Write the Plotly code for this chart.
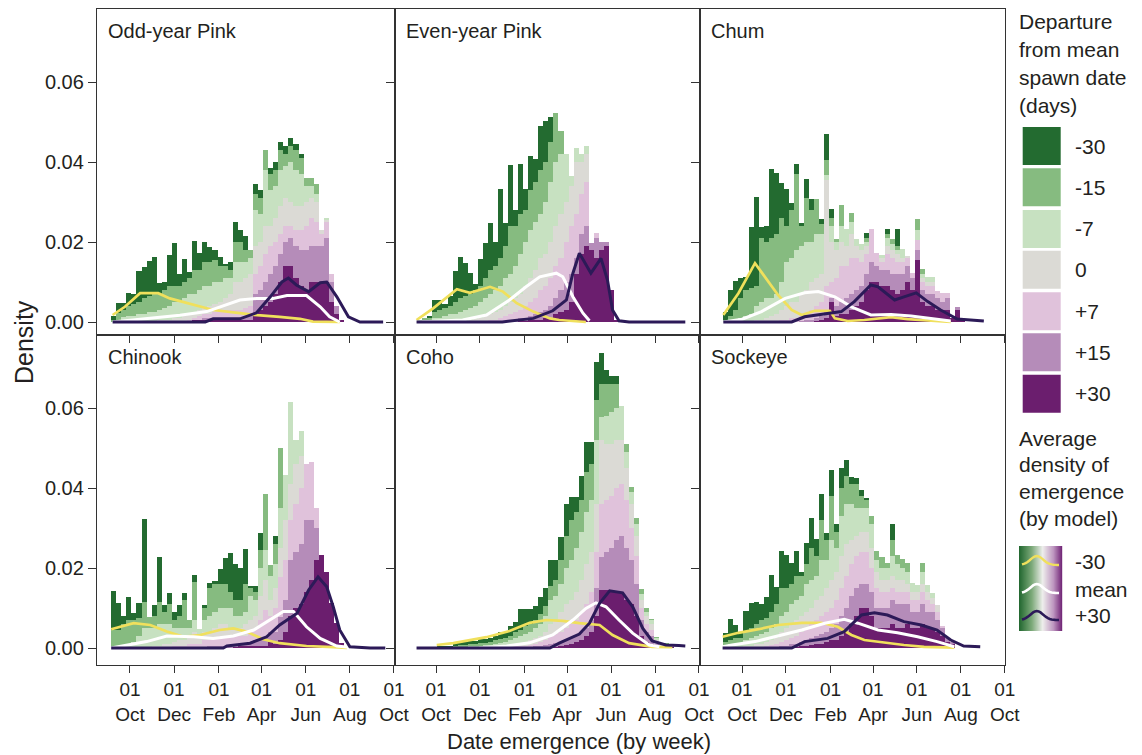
import math
import plotly.graph_objects as go

W, H = 1142, 755
PL, PT, PR, PB = 97, 9, 137, 90
PW, PH = W - PL - PR, H - PT - PB

FONT = "Liberation Sans, Arial, Helvetica, sans-serif"
TXT = "#231F20"
FRAME = "#333333"

LAYER_NAMES = ["+30", "+15", "+7", "0", "-7", "-15", "-30"]
LAYER_COLORS = ["#6B1E6E", "#B58CB9", "#E0C2DB", "#DBDAD5", "#C7E1C1", "#86BB80", "#236B30"]
YELLOW, WHITE, NAVY = "#F0E05C", "#FFFFFF", "#2C1A58"

BIN_EDGE0 = -26   # first weekly bin edge, days from 01 Oct
BIN_DAYS = 7

X_TICK_DAYS = [0, 61, 123, 182, 243, 304, 365]
X_TICK_TEXT = ["01<br>Oct", "01<br>Dec", "01<br>Feb", "01<br>Apr", "01<br>Jun", "01<br>Aug", "01<br>Oct"]
Y_TICKS = [0, 0.02, 0.04, 0.06]
Y_TICK_TEXT = ["0.00", "0.02", "0.04", "0.06"]

# ---- weekly histograms: cumulative tops (x0.001) of layers +30,+15,+7,0,-7,-15,-30 ----
ODD_PINK_START = 0
ODD_PINK = [
    [0,0,0,0,0,0.5,1.5],[0,0,0,0,0.3,2.3,4.7],[0,0,0,0,1.3,3,4.8],[0,0,0,0,1.5,4,7.2],
    [0,0,0,0,1.5,4.5,7],[0,0,0,0,2,5,12.7],[0,0,0,0,2,6,13.8],[0,0,0,0,2.5,6.5,15.2],
    [0,0,0,0.3,2.5,7,16.3],[0,0,0,0.5,3,7,9.7],[0,0,0,0.5,3.5,8,10],[0,0,0,0.5,4,9,16.8],
    [0,0,0,1,5,9,19.8],[0,0,0.3,1,5,9,12],[0,0,0.3,1.5,6,10,15.7],[0,0,0.5,2,7,11,12.5],
    [0.5,0.5,1,2.5,7,13,20.2],[0.5,0.5,1.5,3,8,13,17.2],[0.5,1,2,3.5,9,15,20],[0.5,1,2,4,9,15,18.7],
    [0.5,1,2.5,4.5,10,15.5,18],[0.5,1,2.5,5,10,14,16.3],[0.5,1,3,6,11,14,14.5],[0.5,1,3,7,11,13,15],
    [0.5,1,3,10,15,20,25],[0.5,1,3,10,15,20,23],[0.5,1.5,3.5,11,15,18,21.5],[0.5,1.5,4,12,16,18,18],
    [2,7,12,19,28,32,34.5],[3,8,14,20,27,31,33],[4,10,17,24,38,43,43],[5,12,19,24,33,37,38.5],
    [7,14,20,26,34,38,40],[10,17,22,29,38,43,45],[14,20,24,31,39,42,44],[14,21,24,30,40,44,46],
    [11,19,23,29,38,43,44.5],[9,18,23,29,37,41,42],[8,18,24,30,34,36,36],[10,19,26,31,34,36,36],
    [10,19,25,30,32,34.5,34.5],[10,19,22,23,23,23,23],[10,21,25,25.5,26,26,26],[5,10,12,12,12,12,12],
    [2,4,4,4,4,4,4],[0.5,0.5,0.5,0.5,0.5,0.5,0.5],
]
EVEN_PINK_START = 0
EVEN_PINK = [
    [0,0,0,0,0.2,0.5,0.5],[0,0,0,0,0.5,1,1],[0,0,0,0,0.5,1,1.5],[0,0,0,0,1,2.5,5.5],
    [0,0,0,0,1,3,5.5],[0,0,0,0,1.5,3.5,4.5],[0,0,0,0,2,4,6.5],[0,0,0,0,2,5,12.7],
    [0,0,0,0,2.5,6,16.3],[0,0,0,0.3,3,6.5,14.7],[0,0,0,0.5,3.5,7,12.2],[0,0,0,0.8,4,8,9.4],
    [0,0,0,1,5,9,15.7],[0,0,0.3,1.5,6,11,19.7],[0,0,0.5,2,7,13,24.7],[0,0,0.5,2.5,8,14,20],
    [0,0,1,3,9,16,33.2],[0,0.3,1.5,4,11,19,24.7],[0,0.5,2,5,12,24,39.3],[0,0.5,2.5,6,14,24,28],
    [0.3,1,3,7,17,27,39.5],[0.3,1,4,9,20,28,33.2],[0.5,1.5,5,11,23,33,41.5],[0.5,2,6,13,25,35,40.7],
    [0.5,2.5,8,16,27,38,49],[1,3,9,17,30,40,50.3],[1,4,11,20,35,45,51.2],[2,6,14,24,40,52.3,52.3],
    [2.5,8,16,27,42,47.8,47.8],[3,10,20,30,42,42,42],[5,12,24,34,36.5,36.5,36.5],[12,16,27,40,43.4,43.4,43.4],
    [17,22,32,40,42,42,42],[19,24,35,42,44,44,44],[18,19.7,19.7,19.7,19.7,19.7,19.7],[16,21,22.2,22.2,22.2,22.2,22.2],
    [18,20,20,20,20,20,20],[19,20,20,20,20,20,20],[8,8,8,8,8,8,8],[0.5,0.5,0.5,0.5,0.5,0.5,0.5],
]
CHUM_START = 0
CHUM = [
    [0,0,0,0,0,0.5,2.5],[0,0,0,0,0,1.5,8],[0,0,0,0,0.5,3,10.2],[0,0,0,0,1,6,11],
    [0,0,0,0,1.5,8,11.3],[0,0,0,0,2,8.5,23.7],[0,0,0,0.5,4,9,31.3],[0,0,0,0.5,5,21,23.8],
    [0,0,0,1,6,20,24],[0,0,0,1.5,6,21,38.2],[0,0,0,2,7,22,37.3],[0,0,0.5,3,10,26,34.8],
    [0,0,0.5,4,15,24,33.2],[0,0,1,5,16,28,29.7],[0,0,1,5,18,37,39.4],[0,0.3,1.5,7,19,24,24.8],
    [0,0.5,2,8,20,31,35.7],[0,0.5,3,10,20,28,30.7],[0.3,1,4,11,22,30.7,30.7],[0.5,1.5,5,12,22,24.5,25.75],
    [1,3,9,35.5,36.75,40.5,47],[5,6,10,20,24,26,28.25],[1.5,4,11,18,20,20.75,20.75],[2,5,14,20,24,29.25,29.25],
    [2,6,14,19,23.2,23.2,23.2],[3,7,16,22,25,27.2,27.2],[4,8,16,19,20.75,20.75,20.75],[5,9,15,18,19.5,19.5,19.5],
    [8,12,17,19,20,21,22.3],[10,15,23.2,23.2,23.2,23.2,23.2],[10,14,17.2,17.2,17.2,17.2,17.2],[9,13,15,16,16.75,16.75,16.75],
    [9,13,17,19,21,22,23.2],[8,12,16,18,19.5,20.7,20.7],[7,12,15,17,18,19,23.25],[8,12,15,16,18.2,18.2,18.2],
    [10,14,16,16.3,16.3,16.3,16.3],[8,11,12.2,12.2,12.2,12.2,12.2],[15.5,18,20.5,20.5,23,25.75,25.75],[5,8,10,11,12,13.2,13.2],
    [4,7,9,10,11.3,11.3,11.3],[4,7,9,10,11.3,11.3,11.3],[3,6,7.75,7.75,7.75,7.75,7.75],[3,5,7.2,7.2,7.2,7.2,7.2],
    [3,6,7.2,7.2,7.2,7.2,7.2],[1,1,1,1,1,1,1],[3,3.7,3.7,3.7,3.7,3.7,3.7],[0.5,0.5,0.5,0.5,0.5,0.5,0.5],
]
CHINOOK_START = 0
CHINOOK = [
    [0,0,0,0,0,4.5,14.25],[0,0,0,0,0,4.5,11.2],[0,0,0,0,0.5,6,8],[0,0,0,0,1,7,12.7],
    [0,0,0,0,1.5,7,8.8],[0,0,0,0,3,7.5,11.2],[0,0,0,0,5,11.5,32.25],[0,0,0,0,5,7.7,7.7],
    [0,0,0,0.5,5,8,10.75],[0,0,0,0.5,6,11.5,22.8],[0,0,0,1,6,9,10.75],[0,0,0,1,6,11,13.7],
    [0,0,0.5,1.5,5,7,9],[0,0,0.5,2,5,8,10.75],[0,0,0.5,2,5,12,13.8],[0,0,1,3,5,7,7],
    [0,0,1,4,7,16.5,18.25],[0,0,1,3,4.7,4.7,4.7],[0,0.3,2,4,7,10,10.75],[0,0.5,2,4,8,15,16.3],
    [0,0.5,2.5,5,9,16,16.75],[0,0.5,3,6,10,16,19.7],[0,0.5,3,6,10,16,22.6],[0,0.5,3,5,10,14,23.7],
    [0.3,1,3,5,8,12,20.9],[0.5,1,3,5,8,12,19.9],[0.5,1,3,6,9,16,24.7],[0.5,1.5,4,7,13,15,15.5],
    [0.5,2,5,8,12,14,15.5],[0.5,2,7,13,20,24.5,28.8],[0.5,2.8,9.5,17,24.5,38.4,38.4],[1.5,4,8,12,18,20.75,20.75],
    [1,4,10,15,21,26,28],[2,7.8,17.8,25,35,49.9,49.9],[4,12,22,32,43.25,43.25,43.25],[8,22,32,41,61.4,61.4,61.4],
    [10,24,36,46,52,52,52],[11,26,40,48,54.3,54.3,54.3],[14,32,46,46,46,46,46],[17,32,46.6,46.6,46.6,46.6,46.6],
    [22,30,34.9,34.9,34.9,34.9,34.9],[23.25,23.25,23.25,23.25,23.25,23.25,23.25],[19.1,19.1,19.1,19.1,19.1,19.1,19.1],
    [11.2,11.2,11.2,11.2,11.2,11.2,11.2],[6.2,6.2,6.2,6.2,6.2,6.2,6.2],[1.3,1.3,1.3,1.3,1.3,1.3,1.3],
]
COHO_START = 4
COHO = [
    [0,0,0,0,0,0.1,0.3],[0,0,0,0,0,0.1,0.3],[0,0,0,0,0,0.2,0.5],[0,0,0,0,0.2,0.5,1.2],
    [0,0,0,0,0.3,0.8,1.6],[0,0,0,0,0.3,0.8,1.6],[0,0,0,0.1,0.4,1,1.8],[0,0,0,0.1,0.5,1,1.8],
    [0,0,0,0.2,0.6,1.2,2.2],[0,0,0,0.2,0.7,1.3,2.2],[0,0,0.1,0.3,0.8,1.5,2.4],[0,0,0.1,0.3,1,2,3],
    [0,0,0.2,0.5,1.2,2.2,4],[0,0,0.2,0.5,1.5,2.5,4],[0,0.1,0.3,0.8,2,3,5.5],[0,0.1,0.4,1,2.5,4,6.6],
    [0,0.2,0.5,1.2,3,4.5,9.7],[0,0.2,0.6,1.5,3.5,5.5,9.7],[0,0.3,0.8,2,4,6,9.7],[0.1,0.4,1,2.5,5,7,10.5],
    [0.1,0.5,1.5,3,6,8.5,12.7],[0.2,0.7,2,4,8,10.5,15],[0.3,1,3,6,12,15.5,22],[0.3,1.2,3.5,7,13,17,22],
    [0.5,1.5,4,9,16,22,27.8],[0.8,2,5,11,20,28,36],[1,2.5,6,12,22,32,37.8],[1.5,3,7,14,25,34,37.8],
    [2,4,9,17,29,37,43],[3,5,11,21,34,44,51.6],[4,7,14,24,37,46,51.6],[8,15,24,36,52,62,71.6],
    [14.5,22.8,36,52,57.8,66,73.8],[14.5,24,37,51,58,66,69.5],[14.5,25,38,51,59,66,68],[14,27,40,52,60,66,68],
    [14,28,41,52,60.5,60.5,60.5],[12,25,37,45,49,50.9,50.9],[11,22,30,36,39,40.3,40.3],[8,16,23,28,31,32.4,32.4],
    [3,7,10,12,13.5,14.7,14.7],[1.5,4,6,8,9,9.9,9.9],[1,3,4.5,6,7,7.2,7.2],[0.5,1,1.5,2,2.5,2.7,2.7],
    [0.3,0.5,0.7,0.9,1.1,1.2,1.2],[0.3,0.5,0.7,0.9,1.1,1.2,1.2],[0.3,0.4,0.5,0.6,0.7,0.8,0.8],
]
SOCKEYE_START = 0
SOCKEYE = [
    [0,0,0,0,0.5,1.5,3.8],[0,0,0,0,1,2,7.25],[0,0,0,0,1,2.5,5.75],[0,0,0,0.3,1.2,2.5,4],
    [0,0,0,0.5,2,4,9.25],[0,0,0,0.5,2.5,5,11.2],[0,0,0.2,1,3,6,11.6],[0,0,0.3,1,3.5,7,11],
    [0,0,0.5,1.5,4,7.5,12.8],[0,0.2,0.8,2,5,9,18.25],[0,0.3,1,2.5,6,11,15.3],[0,0.5,1.5,4,8,15,24.3],
    [0,0.5,2,5,9,15,23.25],[0.3,1,2.5,6,11,16,21.2],[0.3,1,3,7,12,18,24.3],[0.5,1.5,4,8,13,18,19],
    [0.5,2,5,9,16,21,26.2],[0.8,2.5,6,10,17,25,32.4],[1,3,7,12,18,23,27.2],[1,3.5,8,13,22,32,38.5],
    [1.5,4,9,15,22,27,28.8],[2,5,10,17,27,38,44.5],[2,6,12,19,25,29,31],[3,8,15,23,33,40,44.9],
    [4,10,18,26,36,43,47],[6,13,21,27,36,41,42.7],[8,15,23,28,35,41,42.4],[10,16,24,29,35,38,39.5],
    [10,16,24,29,35,37,37.4],[8,14,20,25,31,33,33],[5,10,15,19,22,24.3,24.3],[5,10,14,17,20,22.8,22.8],
    [5,10,14,17,20,21.2,21.2],[6,12,15,18,23,27,31],[5,11,14,17,21,23.25,23.25],[5,11,14,17,20,22.25,22.25],
    [6,11,14,16,19,21.3,21.3],[5,9,12,14,16.2,16.2,16.2],[5,9,12,14,15.75,15.75,15.75],[6,11,14,16,19,21.3,21.3],
    [5,9,12,14,15.75,15.75,15.75],[5,9,11,12.5,13.8,13.8,13.8],[4,7,9,10.75,10.75,10.75,10.75],[3,5,5.5,5.5,5.5,5.5,5.5],
    [1.5,2.6,2.6,2.6,2.6,2.6,2.6],[1,1.5,1.5,1.5,1.5,1.5,1.5],
]

# ---- model density curves: days from 01 Oct, density x0.001 ----
ODD_PINK_YEL_X = [-24,-7,14,39,55,87,115,152,176,207,235,253,290]
ODD_PINK_YEL_Y = [1.75,3.8,7.2,7.2,5.9,4.25,3.0,2.2,1.7,1.3,0.8,0.1,0]
ODD_PINK_WHT_X = [-24,23,69,106,134,152,175,198,217,244,263,276,290]
ODD_PINK_WHT_Y = [0,0.8,1.7,2.6,4.25,5.5,5.9,5.9,6.6,6.6,3.8,1.3,0]
ODD_PINK_NAV_X = [-24,104,115,152,175,194,210,219,230,247,263,272,286,302,318,350]
ODD_PINK_NAV_Y = [0,0,0.8,0.8,2.3,6.3,10,11,9.25,7.6,9.8,10,6.3,1.3,0,0]

EVEN_PINK_YEL_X = [-27,-4,29,47,75,93,112,135,158,171,208]
EVEN_PINK_YEL_Y = [0.5,3.4,8.2,7.3,8.8,7.6,4.7,2.6,0.9,0.5,0]
EVEN_PINK_WHT_X = [-27,37,70,102,125,144,167,176,190,204,213]
EVEN_PINK_WHT_Y = [0,0.5,1.75,5.5,8.8,11.3,12.2,11.3,6.3,2.2,0.3]
EVEN_PINK_NAV_X = [-27,92,135,162,181,190,199,215,229,238,245,254,268,346]
EVEN_PINK_NAV_Y = [0,0,0.9,2.8,5.5,12.2,17.2,12.2,15.9,10.5,3,0.3,0,0]

CHUM_YEL_X = [-26,-5,18,32,50,69,83,101,122,129,147,170,207,230,249,290]
CHUM_YEL_Y = [1.75,7.2,14.7,11.3,6.75,3,1.75,2.8,2.8,0.9,0.25,0.5,1.2,0.7,0.5,0]
CHUM_WHT_X = [-26,0,27,60,87,106,129,152,179,207,235,271,290]
CHUM_WHT_Y = [0,0.7,2.6,5.9,7.3,7.6,6.3,3.8,1.75,1.9,1.5,0.7,0.25]
CHUM_NAV_X = [-26,69,87,119,138,156,179,189,212,225,242,258,276,299,318,336]
CHUM_NAV_Y = [0,0,1.3,2.2,2.6,5.1,9.25,8.8,5.5,6.3,7.3,5.1,3,0.75,0.5,0.25]

CHINOOK_YEL_X = [-26,5,28,51,74,97,124,143,161,184,207,244,281,300]
CHINOOK_YEL_Y = [4.7,6.2,5.75,4.1,2.8,3.25,4.5,4.9,4.1,2.2,1.2,0.5,0.2,0]
CHINOOK_WHT_X = [-26,-5,23,51,88,115,143,171,194,212,226,244,263,286,302]
CHINOOK_WHT_Y = [0,0.75,1.6,3,2.8,2.4,3,4.5,7,9.1,9.1,5.3,2.4,0.5,0.2]
CHINOOK_NAV_X = [-26,129,134,166,189,207,231,247,260,272,281,290,304,332,353]
CHINOOK_NAV_Y = [0,0,0.5,1.2,2.8,5.75,8.7,14.5,17.8,15.3,10.3,4.5,0.3,0,0]

COHO_YEL_X = [1,24,70,102,130,153,176,199,227,245,268,300,328]
COHO_YEL_Y = [0.75,1.2,2.7,4.25,6.3,7,6.8,6.2,5.75,3.25,1.2,0.3,0.2]
COHO_WHT_X = [60,98,130,162,190,208,222,236,254,273,296,310]
COHO_WHT_Y = [0,0.5,1.3,3.25,7,9.9,11.3,10.3,7,3.7,0.75,0.3]
COHO_NAV_X = [-27,158,171,199,213,227,241,259,273,287,300,319,337,346]
COHO_NAV_Y = [0,0,1.2,3.5,6.2,11.2,14.3,13.8,10.3,4.9,1.75,0.75,0.6,0.5]

SOCKEYE_YEL_X = [-27,-5,23,50,83,110,133,152,170,198,225,253,295]
SOCKEYE_YEL_Y = [2.8,3.8,4.7,5.75,6.3,6.3,5.3,3.25,2,1.3,0.75,0.3,0.1]
SOCKEYE_WHT_X = [-27,-14,18,50,83,115,142,161,189,216,244,271,295]
SOCKEYE_WHT_Y = [0.3,0.75,1.6,3,4.5,6.2,7.2,6.2,4.5,3.8,2.8,1.6,0.3]
SOCKEYE_NAV_X = [-27,69,87,119,142,166,184,202,225,249,271,290,308,331]
SOCKEYE_NAV_Y = [0,0,1.6,2.4,4.1,8.25,8.8,8.25,6.6,5.75,4.5,2,0.5,0.3]

PANELS = [
    dict(name="Odd-year Pink", rows=ODD_PINK, start=ODD_PINK_START,
         lines=[(ODD_PINK_YEL_X, ODD_PINK_YEL_Y), (ODD_PINK_WHT_X, ODD_PINK_WHT_Y), (ODD_PINK_NAV_X, ODD_PINK_NAV_Y)]),
    dict(name="Even-year Pink", rows=EVEN_PINK, start=EVEN_PINK_START,
         lines=[(EVEN_PINK_YEL_X, EVEN_PINK_YEL_Y), (EVEN_PINK_WHT_X, EVEN_PINK_WHT_Y), (EVEN_PINK_NAV_X, EVEN_PINK_NAV_Y)]),
    dict(name="Chum", rows=CHUM, start=CHUM_START,
         lines=[(CHUM_YEL_X, CHUM_YEL_Y), (CHUM_WHT_X, CHUM_WHT_Y), (CHUM_NAV_X, CHUM_NAV_Y)]),
    dict(name="Chinook", rows=CHINOOK, start=CHINOOK_START,
         lines=[(CHINOOK_YEL_X, CHINOOK_YEL_Y), (CHINOOK_WHT_X, CHINOOK_WHT_Y), (CHINOOK_NAV_X, CHINOOK_NAV_Y)]),
    dict(name="Coho", rows=COHO, start=COHO_START,
         lines=[(COHO_YEL_X, COHO_YEL_Y), (COHO_WHT_X, COHO_WHT_Y), (COHO_NAV_X, COHO_NAV_Y)]),
    dict(name="Sockeye", rows=SOCKEYE, start=SOCKEYE_START,
         lines=[(SOCKEYE_YEL_X, SOCKEYE_YEL_Y), (SOCKEYE_WHT_X, SOCKEYE_WHT_Y), (SOCKEYE_NAV_X, SOCKEYE_NAV_Y)]),
]
LINE_STYLE = [(YELLOW, 2.7), (WHITE, 3.0), (NAVY, 3.0)]

# ---- layout geometry (pixels) ----
COL_PX = [(97, 395), (395, 700), (700, 1005)]
ROW_PX = [(9, 335), (335, 665)]
X_RANGES = [(-45.6, 366.4), (-56.9, 366.4), (-58.4, 365.4)]
Y_RANGES = [(-0.00325, 0.07825), (-0.00425, 0.07825)]


def pxx(x):
    return (x - PL) / PW


def pxy(y):
    return (PT + PH - y) / PH


fig = go.Figure()

for i, p in enumerate(PANELS):
    s = "" if i == 0 else str(i + 1)
    n = len(p["rows"])
    xs = [BIN_EDGE0 + BIN_DAYS * (p["start"] + k) + BIN_DAYS / 2 for k in range(n)]
    for j in range(7):
        hs = []
        for row in p["rows"]:
            lo = max(row[:j]) if j > 0 else 0
            hi = max(row[:j + 1])
            hs.append(max(0.0, hi - lo) * 0.001)
        fig.add_trace(go.Bar(x=xs, y=hs, width=BIN_DAYS, marker=dict(color=LAYER_COLORS[j], line=dict(width=0)),
                             xaxis="x" + s, yaxis="y" + s, hoverinfo="skip", showlegend=False,
                             name=LAYER_NAMES[j]))
    for (lx, ly), (col, lw) in zip(p["lines"], LINE_STYLE):
        fig.add_trace(go.Scatter(x=lx, y=[v * 0.001 for v in ly], mode="lines",
                                 line=dict(color=col, width=lw), xaxis="x" + s, yaxis="y" + s,
                                 hoverinfo="skip", showlegend=False))

xtickfont = dict(family=FONT, size=19, color=TXT)
ytickfont = dict(family=FONT, size=20, color=TXT)
layout = dict(
    width=W, height=H, margin=dict(l=PL, r=PR, t=PT, b=PB),
    paper_bgcolor="white", plot_bgcolor="white", barmode="stack", bargap=0,
    showlegend=False, font=dict(family=FONT, color=TXT),
)
annotations = []
for i, p in enumerate(PANELS):
    r, c = divmod(i, 3)
    s = "" if i == 0 else str(i + 1)
    xd = [pxx(COL_PX[c][0]), pxx(COL_PX[c][1])]
    yd = [pxy(ROW_PX[r][1]), pxy(ROW_PX[r][0])]
    layout["xaxis" + s] = dict(domain=xd, range=list(X_RANGES[c]), anchor="y" + s,
                               tickmode="array", tickvals=X_TICK_DAYS, ticktext=X_TICK_TEXT,
                               showticklabels=(r == 1), ticks="outside", ticklen=7, tickwidth=1.2,
                               tickcolor=FRAME, showline=True, mirror=True, linecolor=FRAME, linewidth=1.3,
                               showgrid=False, zeroline=False, tickfont=xtickfont)
    layout["yaxis" + s] = dict(domain=yd, range=list(Y_RANGES[r]), anchor="x" + s,
                               tickmode="array", tickvals=Y_TICKS, ticktext=Y_TICK_TEXT,
                               showticklabels=(c == 0), ticks="outside", ticklen=8, tickwidth=1.2,
                               tickcolor=FRAME, showline=True, mirror=True, linecolor=FRAME, linewidth=1.3,
                               showgrid=False, zeroline=False, tickfont=ytickfont)
    annotations.append(dict(text=p["name"], x=pxx(COL_PX[c][0] + 9), y=pxy(ROW_PX[r][0] + 22),
                            xref="paper", yref="paper", xanchor="left", yanchor="middle", showarrow=False,
                            font=dict(family=FONT, size=20, color=TXT)))


def ann(text, x, y, size, xanchor="left", angle=0):
    return dict(text=text, x=pxx(x), y=pxy(y), xref="paper", yref="paper", xanchor=xanchor,
                yanchor="middle", showarrow=False, textangle=angle,
                font=dict(family=FONT, size=size, color=TXT))


annotations.append(ann("Density", 24, 342, 25, xanchor="center", angle=-90))
annotations.append(ann("Date emergence (by week)", 579, 741, 22, xanchor="center"))

# legend 1: departure from mean spawn date
for k, t in enumerate(["Departure", "from mean", "spawn date", "(days)"]):
    annotations.append(ann(t, 1017, 22 + 27.8 * k, 21))
shapes = []
box_tops = [127, 168.3, 210, 250.7, 292.3, 333.3, 374.7]
for k, (name, col) in enumerate(zip(LAYER_NAMES[::-1], LAYER_COLORS[::-1])):
    t = box_tops[k]
    shapes.append(dict(type="rect", xref="paper", yref="paper", x0=pxx(1022.7), x1=pxx(1060.7),
                       y0=pxy(t + 38), y1=pxy(t), fillcolor=col, line=dict(width=0), layer="above"))
    annotations.append(ann(name, 1073, t + 19, 21))

# legend 2: model density curves
for k, t in enumerate(["Average", "density of", "emergence", "(by model)"]):
    annotations.append(ann(t, 1017, 438 + 26.7 * k, 21))

stops = [(0.0, (32, 102, 46)), (0.3, (125, 170, 122)), (0.55, (238, 238, 236)),
         (0.8, (190, 150, 192)), (1.0, (112, 36, 118))]


def grad(t):
    for (a, ca), (b, cb) in zip(stops[:-1], stops[1:]):
        if a <= t <= b:
            f = (t - a) / (b - a)
            return "rgb(%d,%d,%d)" % tuple(round(ca[m] + f * (cb[m] - ca[m])) for m in range(3))
    return "rgb(112,36,118)"


gx0, gx1, gy0, gy1 = 1019, 1062, 546, 631
nslice = gx1 - gx0
for k in range(nslice):
    shapes.append(dict(type="rect", xref="paper", yref="paper", x0=pxx(gx0 + k), x1=pxx(gx0 + k + 1.2),
                       y0=pxy(gy1), y1=pxy(gy0), fillcolor=grad((k + 0.5) / nslice), line=dict(width=0),
                       layer="above"))
for base, col, lw in [(565, YELLOW, 2.4), (593, WHITE, 2.6), (620, NAVY, 2.6)]:
    pts = []
    for q in range(21):
        t = q / 20
        xx = 1022 + 37 * t
        yy = base - 9 * math.exp(-((t - 0.4) / 0.24) ** 2)
        pts.append("%.5f,%.5f" % (pxx(xx), pxy(yy)))
    shapes.append(dict(type="path", xref="paper", yref="paper", path="M " + " L ".join(pts),
                       line=dict(color=col, width=lw), layer="above"))
annotations.append(ann("-30", 1073, 561, 21))
annotations.append(ann("mean", 1073, 589, 21))
annotations.append(ann("+30", 1073, 615, 21))

layout["annotations"] = annotations
layout["shapes"] = shapes
fig.update_layout(**layout)
fig.write_html("out.html")
